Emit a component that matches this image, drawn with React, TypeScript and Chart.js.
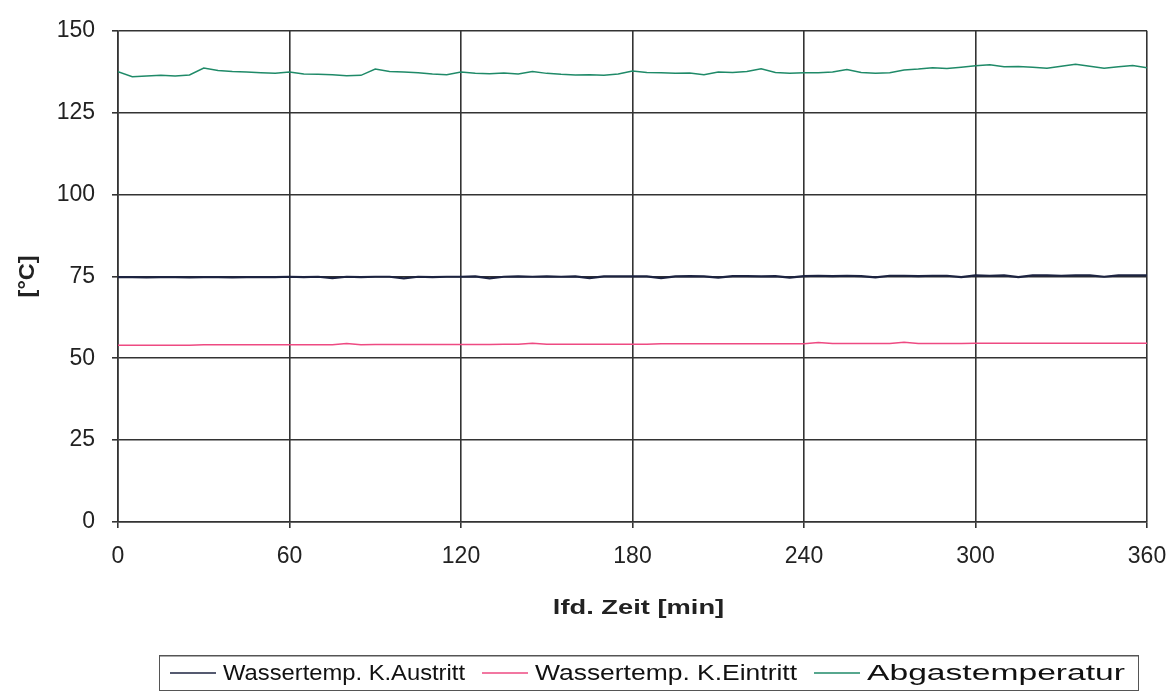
import React, { useEffect, useRef } from 'react';
import { Chart, registerables } from 'chart.js';

Chart.register(...registerables);

// time axis (minutes)
const minutes = [
  0, 5, 10, 15, 20, 25, 30, 35, 40, 45, 50, 55,
  60, 65, 70, 75, 80, 85, 90, 95, 100, 105, 110, 115,
  120, 125, 130, 135, 140, 145, 150, 155, 160, 165, 170, 175,
  180, 185, 190, 195, 200, 205, 210, 215, 220, 225, 230, 235,
  240, 245, 250, 255, 260, 265, 270, 275, 280, 285, 290, 295,
  300, 305, 310, 315, 320, 325, 330, 335, 340, 345, 350, 355,
  360,
];

const wasserAustritt = [
  74.8, 74.8, 74.7, 74.8, 74.8, 74.7, 74.8, 74.8, 74.7, 74.8, 74.8, 74.8,
  74.9, 74.8, 74.9, 74.5, 74.9, 74.8, 74.9, 74.9, 74.4, 74.9, 74.8, 74.9,
  74.9, 75.0, 74.4, 74.9, 75.0, 74.9, 75.0, 74.9, 75.0, 74.5, 75.0, 75.0,
  75.0, 75.0, 74.5, 75.0, 75.1, 75.0, 74.6, 75.1, 75.1, 75.0, 75.1, 74.6,
  75.1, 75.2, 75.1, 75.2, 75.1, 74.7, 75.2, 75.2, 75.1, 75.2, 75.2, 74.8,
  75.3, 75.2, 75.3, 74.8, 75.3, 75.3, 75.2, 75.3, 75.3, 74.9, 75.3, 75.3,
  75.3,
];

const wasserEintritt = [
  54.0, 54.0, 54.0, 54.0, 54.0, 54.0, 54.1, 54.1, 54.1, 54.1, 54.1, 54.1,
  54.1, 54.1, 54.1, 54.1, 54.5, 54.1, 54.2, 54.2, 54.2, 54.2, 54.2, 54.2,
  54.2, 54.2, 54.2, 54.3, 54.3, 54.6, 54.3, 54.3, 54.3, 54.3, 54.3, 54.3,
  54.3, 54.3, 54.4, 54.4, 54.4, 54.4, 54.4, 54.4, 54.4, 54.4, 54.4, 54.4,
  54.4, 54.8, 54.5, 54.5, 54.5, 54.5, 54.5, 54.9, 54.5, 54.5, 54.5, 54.5,
  54.6, 54.6, 54.6, 54.6, 54.6, 54.6, 54.6, 54.6, 54.6, 54.6, 54.6, 54.6,
  54.6,
];

const abgastemperatur = [
  137.5, 136.0, 136.2, 136.4, 136.2, 136.5, 138.6, 137.9, 137.6, 137.4, 137.2, 137.0,
  137.4, 136.8, 136.7, 136.6, 136.3, 136.4, 138.3, 137.6, 137.4, 137.2, 136.8, 136.6,
  137.4, 137.0, 136.9, 137.1, 136.8, 137.6, 137.0, 136.7, 136.5, 136.6, 136.4, 136.8,
  137.7, 137.3, 137.2, 137.0, 137.1, 136.6, 137.4, 137.3, 137.6, 138.4, 137.3, 137.0,
  137.2, 137.2, 137.4, 138.2, 137.3, 137.0, 137.2, 138.0, 138.3, 138.7, 138.5, 138.9,
  139.3, 139.6, 139.0, 139.1, 138.9, 138.6, 139.2, 139.8, 139.2, 138.6, 139.0, 139.4,
  138.7,
];

const seriesNames = ['Wassertemp. K.Austritt', 'Wassertemp. K.Eintritt', 'Abgastemperatur'];
const seriesColors = ['#1c2340', '#ee4a82', '#1f8a68'];

const xTitle = 'lfd. Zeit [min]';
const yTitle = '[°C]';

const xTicks = { min: 0, max: 360, step: 60 };
const yTicks = { min: 0, max: 150, step: 25 };

const FONT = "'Liberation Sans', Arial, sans-serif";

// legend layout (pixel layout only, no data)
const legendBox = { left: 159, right: 1138, top: 655, bottom: 690 };
const legendItemStarts = [170, 482, 814];

const stretchedText = (
  ctx: CanvasRenderingContext2D,
  text: string,
  x: number,
  y: number,
  sx: number,
  rot = 0,
) => {
  ctx.save();
  ctx.translate(x, y);
  if (rot) ctx.rotate(rot);
  ctx.scale(sx, 1);
  ctx.fillText(text, 0, 0);
  ctx.restore();
};

const decorPlugin = {
  id: 'decor',
  afterDraw(chart: any) {
    const ctx = chart.ctx as CanvasRenderingContext2D;
    const area = chart.chartArea;
    ctx.save();
    ctx.fillStyle = '#222';
    // axis titles
    ctx.font = `bold 21px ${FONT}`;
    ctx.textAlign = 'center';
    ctx.textBaseline = 'middle';
    stretchedText(ctx, xTitle, (area.left + area.right) / 2 + 6, 608, 1.3);
    ctx.font = `bold 22px ${FONT}`;
    stretchedText(ctx, yTitle, 28, (area.top + area.bottom) / 2, 1.07, -Math.PI / 2);

    // legend
    const lineY = 673;
    const textBase = 680;
    const lineLen = 46;
    const lineGap = 7;
    ctx.strokeStyle = '#555';
    ctx.lineWidth = 1;
    ctx.strokeRect(legendBox.left + 0.5, legendBox.top + 0.5, legendBox.right - legendBox.left, legendBox.bottom - legendBox.top);
    ctx.strokeStyle = '#aaa';
    ctx.beginPath();
    ctx.moveTo(legendBox.left + 1, legendBox.top + 1.5);
    ctx.lineTo(legendBox.right, legendBox.top + 1.5);
    ctx.stroke();
    ctx.font = `22px ${FONT}`;
    ctx.textAlign = 'left';
    ctx.textBaseline = 'alphabetic';
    seriesNames.forEach((n, i) => {
      const x0 = legendItemStarts[i];
      ctx.strokeStyle = seriesColors[i];
      ctx.lineWidth = 1.5;
      ctx.beginPath();
      ctx.moveTo(x0, lineY);
      ctx.lineTo(x0 + lineLen, lineY);
      ctx.stroke();
      const tx = x0 + lineLen + lineGap;
      const end = i < seriesNames.length - 1 ? legendItemStarts[i + 1] - 17 : legendBox.right - 13;
      const w = ctx.measureText(n).width;
      const sx = Math.max(1, (end - tx) / w);
      ctx.fillStyle = '#111';
      stretchedText(ctx, n, tx, textBase, sx);
    });
    ctx.restore();
  },
};

export default function App() {
  const ref = useRef<HTMLCanvasElement | null>(null);

  useEffect(() => {
    document.body.style.margin = '0';
    if (!ref.current) return;
    const toPts = (vals: number[]) => minutes.map((m, i) => ({ x: m, y: vals[i] }));
    const gridColor = '#333';
    const chart = new Chart(ref.current, {
      type: 'line',
      data: {
        datasets: [
          {
            label: seriesNames[1],
            data: toPts(wasserEintritt),
            borderColor: seriesColors[1],
            borderWidth: 1.5,
            pointRadius: 0,
            tension: 0,
          },
          {
            label: seriesNames[0],
            data: toPts(wasserAustritt),
            borderColor: seriesColors[0],
            borderWidth: 2.2,
            pointRadius: 0,
            tension: 0,
          },
          {
            label: seriesNames[2],
            data: toPts(abgastemperatur),
            borderColor: seriesColors[2],
            borderWidth: 1.5,
            pointRadius: 0,
            tension: 0,
          },
        ],
      },
      options: {
        animation: false,
        responsive: false,
        devicePixelRatio: 1,
        layout: { padding: { left: 0, right: 27, top: 29, bottom: 71 } },
        plugins: {
          legend: { display: false },
          tooltip: { enabled: false },
        },
        scales: {
          x: {
            type: 'linear',
            min: xTicks.min,
            max: xTicks.max,
            ticks: {
              stepSize: xTicks.step,
              color: '#222',
              font: { family: FONT, size: 23 },
              padding: 15,
              maxRotation: 0,
            },
            grid: { color: gridColor, lineWidth: 1.6, tickLength: 6, tickColor: gridColor },
            border: { display: true, color: gridColor, width: 1.6 },
            title: { display: false, text: xTitle },
            afterFit: (s: any) => {
              s.height = 100;
              s.paddingLeft = 0;
              s.paddingRight = 0;
            },
          },
          y: {
            type: 'linear',
            min: yTicks.min,
            max: yTicks.max,
            ticks: {
              stepSize: yTicks.step,
              color: '#222',
              font: { family: FONT, size: 23 },
              padding: 17,
            },
            grid: { color: gridColor, lineWidth: 1.6, tickLength: 6, tickColor: gridColor },
            border: { display: true, color: gridColor, width: 1.6 },
            title: { display: false, text: yTitle },
            afterFit: (s: any) => {
              s.width = 118;
            },
          },
        },
      },
      plugins: [decorPlugin],
    });
    return () => chart.destroy();
  }, []);

  return (
    <div style={{ width: 1174, height: 693, background: '#fff' }}>
      <canvas ref={ref} width={1174} height={693} style={{ display: 'block' }} />
    </div>
  );
}
